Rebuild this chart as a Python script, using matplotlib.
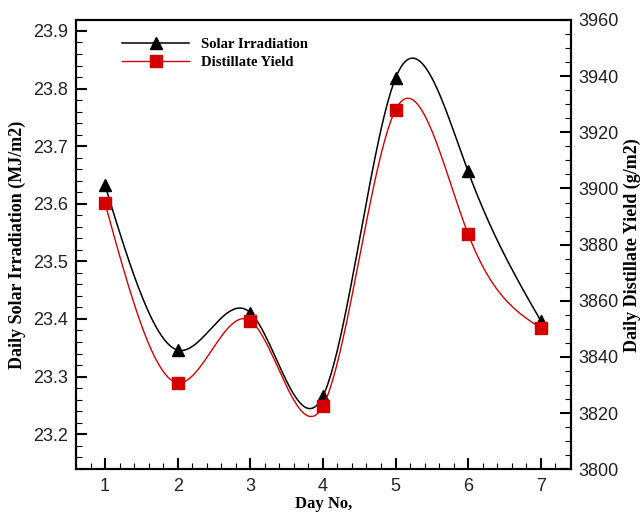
import numpy as np
import matplotlib
matplotlib.use('Agg')
import matplotlib.pyplot as plt
from matplotlib.lines import Line2D
from matplotlib.ticker import MultipleLocator

days = [1, 2, 3, 4, 5, 6, 7]
solar = [23.632, 23.346, 23.411, 23.266, 23.818, 23.656, 23.397]
yield_ = [3894.7, 3830.8, 3852.9, 3822.5, 3928.0, 3883.8, 3850.3]


def natural_spline(x, y, n=300):
    # natural cubic spline, just for the smooth look of the curves
    x = np.asarray(x, float)
    y = np.asarray(y, float)
    k = len(x)
    h = np.diff(x)
    A = np.zeros((k, k))
    r = np.zeros(k)
    A[0, 0] = 1
    A[-1, -1] = 1
    for i in range(1, k - 1):
        A[i, i - 1] = h[i - 1]
        A[i, i] = 2 * (h[i - 1] + h[i])
        A[i, i + 1] = h[i]
        r[i] = 3 * ((y[i + 1] - y[i]) / h[i] - (y[i] - y[i - 1]) / h[i - 1])
    c = np.linalg.solve(A, r)
    b = np.diff(y) / h - h * (2 * c[:-1] + c[1:]) / 3
    d = np.diff(c) / (3 * h)
    xs = np.linspace(x[0], x[-1], n)
    idx = np.clip(np.searchsorted(x, xs) - 1, 0, k - 2)
    dx = xs - x[idx]
    ys = y[idx] + b[idx] * dx + c[idx] * dx ** 2 + d[idx] * dx ** 3
    return xs, ys


RED = '#d40000'
tick_font = 'Liberation Sans'
lab_font = 'Liberation Serif'

fig = plt.figure(figsize=(6.41, 5.13), dpi=100)
ax = fig.add_axes([76 / 641, 1 - 469.3 / 513, (570.5 - 76) / 641, (469.3 - 20) / 513])
ax2 = ax.twinx()

xs, ys = natural_spline(days, solar)
ax.plot(xs, ys, color='black', lw=1.1, zorder=3)
ax.plot(days, solar, ls='none', marker='^', ms=9, color='black', zorder=4)

xs, ys = natural_spline(days, yield_)
ax2.plot(xs, ys, color=RED, lw=1.0, zorder=3)
ax2.plot(days, yield_, ls='none', marker='s', ms=8, color=RED, zorder=4)

ax.set_xlim(0.6, 7.41)
ax.set_ylim(23.139, 23.919)
ax2.set_ylim(3800, 3960)

ax.xaxis.set_major_locator(MultipleLocator(1))
ax.xaxis.set_minor_locator(MultipleLocator(0.2))
ax.yaxis.set_major_locator(MultipleLocator(0.1))
ax.yaxis.set_minor_locator(MultipleLocator(0.02))
ax2.yaxis.set_major_locator(MultipleLocator(20))
ax2.yaxis.set_minor_locator(MultipleLocator(5))

for a in (ax, ax2):
    a.tick_params(which='major', direction='in', length=8, width=1.5, labelsize=13, pad=6)
    a.tick_params(which='minor', direction='in', length=4, width=0.8)
    for s in a.spines.values():
        s.set_linewidth(1.5)
    for lbl in a.get_xticklabels() + a.get_yticklabels():
        lbl.set_family(tick_font)
        lbl.set_color('#222222')
ax.tick_params(axis='y', which='both', right=False)
ax.tick_params(axis='x', which='both', top=False)

ax.set_xlabel('Day No,', family=lab_font, weight='bold', fontsize=12, labelpad=1)
ax.set_ylabel('Daily Solar Irradiation (MJ/m2)', family=lab_font, weight='bold', fontsize=13, labelpad=5)
ax2.set_ylabel('Daily Distillate Yield (g/m2)', family=lab_font, weight='bold', fontsize=13, labelpad=3)

handles = [
    Line2D([], [], color='black', lw=1.1, marker='^', ms=9),
    Line2D([], [], color=RED, lw=1.0, marker='s', ms=8),
]
leg = fig.legend(handles, ['Solar Irradiation', 'Distillate Yield'],
                 loc='upper left', bbox_to_anchor=(122 / 641, 1 - 38 / 513),
                 frameon=False, handlelength=4.6, handletextpad=0.8,
                 labelspacing=0.32, borderpad=0, borderaxespad=0, numpoints=1,
                 prop={'family': lab_font, 'weight': 'bold', 'size': 10.5})

fig.savefig('out.png', dpi=100)
